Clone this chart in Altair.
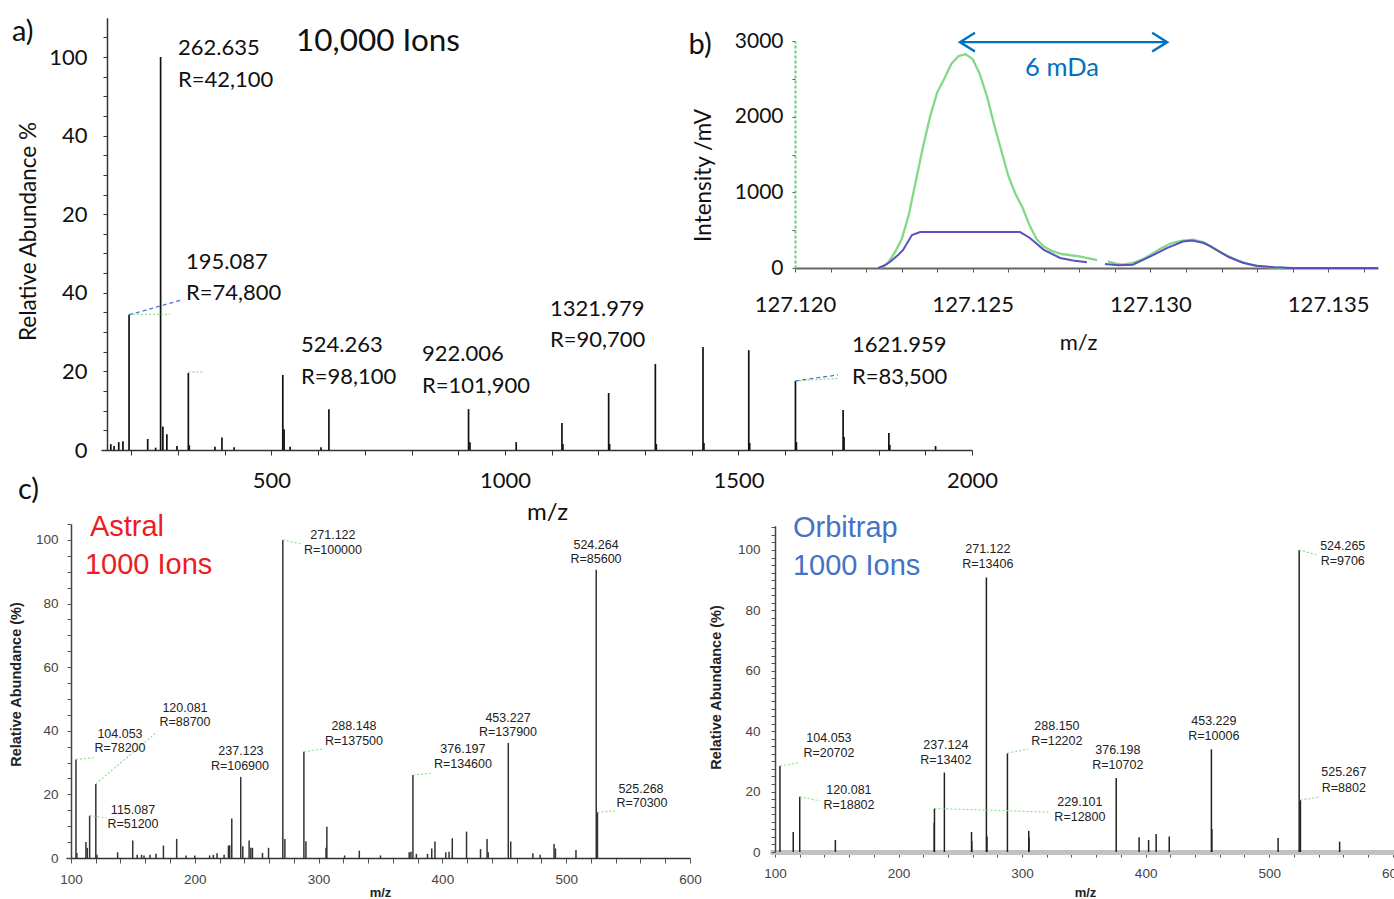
import altair as alt
import pandas as pd

W, H = 1394, 899
FA = "Lato"
FC = "Liberation Sans"
BLUE = "#0070C0"
LEAD_G = "#8fe08f"
LEAD_B = "#4a78d0"

# ---------------- a) 10,000 ions spectrum ----------------
a_mz = [156, 163, 173, 182, 195.087, 235, 252, 262.635, 267.5, 276, 297.6, 322, 324, 379, 394, 420,
        524.263, 527, 540, 606, 623, 922.006, 925, 1024, 1122, 1124, 1222, 1224, 1321.979, 1324,
        1424, 1426, 1522, 1524, 1621.959, 1624, 1724, 1726, 1822, 1824, 1922]
a_ab = [1.5, 1.0, 2.0, 2.2, 34.4, 2.8, 0.6, 100, 6.0, 4.0, 1.0, 19.6, 1.2, 0.8, 3.2, 0.7,
        19.1, 5.3, 0.8, 0.7, 10.4, 10.4, 2.0, 2.0, 6.9, 1.5, 14.5, 1.5, 21.9, 1.5,
        26.2, 1.8, 25.4, 1.8, 17.6, 2.0, 10.2, 3.3, 4.3, 1.3, 1.0]
a_lab_t = ["262.635", "R=42,100", "195.087", "R=74,800", "524.263", "R=98,100",
           "922.006", "R=101,900", "1321.979", "R=90,700", "1621.959", "R=83,500"]
a_lab_mz = [299.8, 299.8, 316.9, 316.9, 563.2, 563.2, 822.3, 822.3, 1096.4, 1096.4, 1743, 1743]
a_lab_ab = [102.3, 94.1, 47.8, 39.9, 26.7, 18.6, 24.4, 16.3, 35.9, 28.0, 26.7, 18.6]
a_ldb_mz = [195.087, 1621.959]
a_ldb_ab = [34.4, 17.6]
a_ldb_mz2 = [308.3, 1713]
a_ldb_ab2 = [38.2, 19.1]
a_ldg_mz = [195.087, 322, 1621.959]
a_ldg_ab = [34.5, 19.8, 17.6]
a_ldg_mz2 = [283, 353, 1713]
a_ldg_ab2 = [34.5, 19.9, 18.2]
a_big_t = ["10,000 Ions"]
a_big_mz = [552.5]
a_big_ab = [103.8]
a_tag_t = ["a)"]
a_tag_mz = [-55.7]
a_tag_ab = [106.4]

# ---------------- b) peak profile ----------------
b_g1_mz = [127.1224, 127.1226, 127.1228, 127.1230, 127.1232, 127.1234, 127.1236, 127.1238, 127.1240,
           127.1242, 127.1244, 127.1246, 127.1248, 127.1250, 127.1252, 127.1254, 127.1256, 127.1258,
           127.1260, 127.1262, 127.1264, 127.1266, 127.1268, 127.1270, 127.1272, 127.1275, 127.1280,
           127.1285]
b_g1_v = [0, 60, 197, 380, 700, 1150, 1600, 2000, 2320, 2500, 2700, 2800, 2825, 2760, 2560, 2270,
          1900, 1560, 1220, 980, 800, 560, 380, 285, 230, 185, 155, 105]
b_g2_mz = [127.1288, 127.1290, 127.1292, 127.1295, 127.1298, 127.1300, 127.1303, 127.1306, 127.1309,
           127.1312, 127.1315, 127.1317, 127.1320, 127.1322, 127.1325, 127.1328, 127.1331, 127.1334,
           127.1338]
b_g2_v = [88, 60, 44, 66, 120, 175, 260, 330, 362, 373, 340, 285, 200, 153, 90, 44, 20, 8, 0]
b_b1_mz = [127.12234, 127.1225, 127.12267, 127.1229, 127.12304, 127.12329, 127.12352, 127.12633,
           127.1266, 127.1270, 127.12746, 127.12782, 127.12821]
b_b1_v = [0, 30, 79, 170, 238, 436, 475, 475, 400, 240, 132, 100, 75]
b_b2_mz = [127.12872, 127.1291, 127.1295, 127.1300, 127.13046, 127.13091, 127.13117, 127.1315,
           127.13169, 127.1322, 127.1326, 127.13298, 127.13349, 127.1340, 127.1364]
b_b2_v = [53, 35, 44, 153, 263, 350, 364, 330, 285, 145, 70, 31, 9, 0, 0]
b_arrow_mz = [127.12464, 127.13047]
b_arrow_v = 2985
b_txt_t = ["6 mDa", "b)"]
b_txt_mz = [127.12751, 127.11733]
b_txt_v = [2642, 2946]

# ---------------- c) Astral 1000 ions ----------------
c1_mz = [104.053, 104.8, 112.1, 113.2, 115.087, 120.081, 121, 137.7, 149.9, 153.5, 157, 159, 163.9,
         168.7, 174.7, 185.4, 193, 200, 212, 215, 218, 223.7, 227.2, 228.2, 229.9, 237.123, 238.8,
         243.9, 245.3, 246.6, 254.7, 259.6, 271.122, 272.8, 288.148, 289.8, 306.0, 306.7, 321,
         332.9, 350, 373.2, 374.6, 376.197, 379, 388, 391.4, 394, 402.7, 405.4, 408, 419.5, 430.8,
         436.1, 437, 453.227, 455.2, 473.1, 479, 490.2, 491.3, 507.9, 524.264, 525.268]
c1_ab = [31.0, 1.6, 5.0, 3.2, 13.3, 23.3, 1.0, 1.8, 5.5, 1.0, 1.0, 0.8, 1.0,
         1.3, 3.9, 6.0, 0.8, 0.8, 0.8, 1.0, 1.5, 1.0, 3.9, 4.0, 12.4, 25.5, 3.7,
         5.5, 3.2, 3.2, 1.6, 3.2, 100, 6.0, 33.4, 5.3, 3.2, 9.8, 0.8,
         2.3, 0.8, 1.8, 2.0, 26.1, 1.3, 1.3, 3.0, 5.2, 1.8, 2.0, 6.2, 8.3, 2.8,
         6.0, 1.8, 36.2, 5.2, 1.5, 1.0, 4.4, 3.0, 2.5, 90.6, 14.4]
c1_lab_t = ["271.122", "R=100000", "524.264", "R=85600", "104.053", "R=78200", "120.081", "R=88700",
            "237.123", "R=106900", "288.148", "R=137500", "376.197", "R=134600", "453.227", "R=137900",
            "525.268", "R=70300", "115.087", "R=51200"]
c1_lab_mz = [311.6, 311.6, 524.1, 524.1, 139.6, 139.6, 192.1, 192.1, 237.3, 236.5, 328.6, 328.6,
             416.6, 416.6, 453.0, 453.0, 560.4, 561.2, 150.1, 150.1]
c1_lab_ab = [101.6, 96.9, 98.4, 94.0, 39.0, 34.6, 47.2, 42.8, 33.6, 28.9, 41.5, 36.8,
             34.3, 29.6, 44.0, 39.6, 21.7, 17.3, 15.1, 10.7]
c1_ld_mz = [104.053, 120.081, 115.087, 271.122, 288.148, 376.197, 525.268]
c1_ld_ab = [31.0, 23.3, 13.3, 100, 33.4, 26.1, 14.4]
c1_ld_mz2 = [118.2, 169.5, 129.0, 286.6, 303.6, 392.4, 539.4]
c1_ld_ab2 = [31.5, 39.6, 12.6, 98.7, 34.3, 26.7, 14.8]
c1_big_t = ["Astral", "1000 Ions"]
c1_big_mz = [115.3, 111.3]
c1_big_ab = [104.1, 92.1]
c_label_t = ["c)"]
c_label_mz = [57.2]
c_label_ab = [115.7]

# ---------------- c) Orbitrap 1000 ions ----------------
c2_mz = [104.053, 114.8, 120.081, 148.9, 228.9, 229.101, 237.124, 259.1, 259.3, 271.122, 271.6,
         288.150, 305.4, 305.6, 376.198, 394.7, 402.4, 408.5, 419.1, 453.229, 453.6, 507.2,
         524.265, 525.267, 557]
c2_ab = [28.5, 6.6, 18.3, 4.0, 9.7, 14.4, 26.3, 6.6, 3.6, 90.9, 5.1,
         32.7, 7.0, 4.8, 24.5, 4.9, 4.0, 6.0, 5.1, 34.0, 7.6, 4.6,
         100, 17.2, 3.4]
c2_lab_t = ["271.122", "R=13406", "524.265", "R=9706", "104.053", "R=20702", "120.081", "R=18802",
            "237.124", "R=13402", "288.150", "R=12202", "376.198", "R=10702", "453.229", "R=10006",
            "525.267", "R=8802", "229.101", "R=12800"]
c2_lab_mz = [272.3, 272.3, 559.5, 559.5, 143.7, 143.7, 159.9, 159.9, 238.3, 238.3, 328.2, 328.2,
             377.5, 377.5, 455.2, 455.2, 560.4, 560.4, 346.8, 346.8]
c2_lab_ab = [100.3, 95.4, 101.3, 96.4, 37.7, 32.8, 20.5, 15.6, 35.4, 30.5, 41.7, 36.8,
             33.8, 28.8, 43.4, 38.4, 26.5, 21.2, 16.6, 11.6]
c2_ld_mz = [104.053, 120.081, 229.101, 288.150, 524.265, 525.267]
c2_ld_ab = [28.5, 18.3, 14.4, 32.7, 100, 17.2]
c2_ld_mz2 = [118.6, 136.4, 322.5, 304.7, 539.3, 541.0]
c2_ld_ab2 = [29.5, 16.9, 13.2, 34.1, 98.3, 18.2]
c2_big_t = ["Orbitrap", "1000 Ions"]
c2_big_mz = [114.6, 114.6]
c2_big_ab = [107.3, 94.7]


# ---------------- helpers ----------------
def noax(field, sc, ch):
    return ch(field, scale=sc, axis=None)


def spectrum(mz, ab, sx, sy, ax_x, ax_y, color, sw):
    d = pd.DataFrame({"mz": mz, "ab": ab, "z": [0.0] * len(mz)})
    return alt.Chart(d).mark_rule(color=color, strokeWidth=sw).encode(
        x=alt.X("mz:Q", scale=sx, axis=ax_x),
        y=alt.Y("ab:Q", scale=sy, axis=ax_y),
        y2=alt.Y2("z"),
    )


def texts(t, mz, ab, sx, sy, **kw):
    d = pd.DataFrame({"t": t, "mz": mz, "ab": ab})
    return alt.Chart(d).mark_text(**kw).encode(
        x=noax("mz:Q", sx, alt.X), y=noax("ab:Q", sy, alt.Y), text="t:N"
    )


def leaders(mz, ab, mz2, ab2, sx, sy, **kw):
    d = pd.DataFrame({"mz": mz, "ab": ab, "mz2": mz2, "ab2": ab2})
    return alt.Chart(d).mark_rule(**kw).encode(
        x=noax("mz:Q", sx, alt.X), y=noax("ab:Q", sy, alt.Y),
        x2=alt.X2("mz2"), y2=alt.Y2("ab2"),
    )


# ---------------- panel a ----------------
sxa = alt.Scale(domain=[135, 2000], range=[101, 972], nice=False, zero=False)
sya = alt.Scale(domain=[0, 110], range=[450, 17.7], nice=False, zero=False)
ax_a_x = alt.Axis(orient="bottom", offset=450 - H, values=list(range(200, 2001, 100)), format="d",
                  labelExpr="datum.value % 500 === 0 ? datum.label : ''",
                  labelFont=FA, labelFontSize=22, labelColor="#111", labelPadding=15,
                  labelFlush=False, labelOverlap=False, tickSize=5, tickColor="#333",
                  domainColor="#333", domainWidth=1.5, grid=False,
                  title="m/z", titleFont=FA, titleFontSize=24, titleFontWeight="normal",
                  titleColor="#111", titleX=547, titleY=62, titleAlign="center",
                  titleBaseline="middle")
ax_a_y = alt.Axis(orient="left", offset=-107, values=list(range(0, 110, 5)), format="d",
                  labelExpr="datum.value === 60 ? '20' : datum.value === 80 ? '40' : "
                            "(datum.value % 20 === 0 ? datum.label : '')",
                  labelFont=FA, labelFontSize=22, labelColor="#111", labelPadding=16,
                  labelOverlap=False, tickSize=4, tickColor="#333",
                  domainColor="#333", domainWidth=1.5, grid=False,
                  title="Relative Abundance %", titleFont=FA, titleFontSize=22.5,
                  titleFontWeight="normal", titleColor="#111", titleX=28 - 107, titleY=231,
                  titleAlign="center", titleBaseline="middle")

layers = [
    spectrum(a_mz, a_ab, sxa, sya, ax_a_x, ax_a_y, "#111", 1.7),
    leaders(a_ldg_mz, a_ldg_ab, a_ldg_mz2, a_ldg_ab2, sxa, sya, color=LEAD_G, strokeWidth=1.3,
            strokeDash=[2, 2]),
    leaders(a_ldb_mz, a_ldb_ab, a_ldb_mz2, a_ldb_ab2, sxa, sya, color=LEAD_B, strokeWidth=1.3,
            strokeDash=[4, 3]),
    texts(a_lab_t, a_lab_mz, a_lab_ab, sxa, sya, align="left", baseline="middle", font=FA,
          fontSize=22, color="#111"),
    texts(a_big_t, a_big_mz, a_big_ab, sxa, sya, align="left", baseline="middle", font=FA,
          fontSize=31.5, color="#111"),
    texts(a_tag_t, a_tag_mz, a_tag_ab, sxa, sya, align="left", baseline="middle", font=FA,
          fontSize=29, color="#111"),
]

# ---------------- panel b ----------------
sxb = alt.Scale(domain=[127.120, 127.1364], range=[795, 1378], nice=False, zero=False)
syb = alt.Scale(domain=[0, 3000], range=[268, 41], nice=False, zero=False)
ax_b_x = alt.Axis(orient="bottom", offset=268 - H, values=[round(127.120 + 0.001 * i, 3) for i in range(17)],
                  labelExpr="round(datum.value * 1000) % 5 === 0 ? format(datum.value, '.3f') : ''",
                  labelFont=FA, labelFontSize=22, labelColor="#111", labelPadding=22,
                  labelFlush=False, labelOverlap=False, tickSize=4, tickColor="#555",
                  domainColor="#666", domainWidth=1.8, grid=False,
                  title="m/z", titleFont=FA, titleFontSize=22, titleFontWeight="normal",
                  titleColor="#111", titleX=1078, titleY=74, titleAlign="center",
                  titleBaseline="middle")
ax_b_y = alt.Axis(orient="left", offset=-795, values=list(range(0, 3001, 500)), format="d",
                  labelExpr="datum.value % 1000 === 0 ? datum.label : ''",
                  labelFont=FA, labelFontSize=21, labelColor="#111", labelPadding=9,
                  labelOverlap=False, tickSize=3, tickColor="#555",
                  domainColor="#6ccb6c", domainWidth=2, domainDash=[3, 2], grid=False,
                  title="Intensity /mV", titleFont=FA, titleFontSize=22.5, titleFontWeight="normal",
                  titleColor="#111", titleX=703 - 795, titleY=175, titleAlign="center",
                  titleBaseline="middle")

b_rows = []
for seg, xs, vs in [("g1", b_g1_mz, b_g1_v), ("g2", b_g2_mz, b_g2_v)]:
    b_rows += [{"mz": x, "v": v, "seg": seg} for x, v in zip(xs, vs)]
b_green = pd.DataFrame(b_rows)
b_rows = []
for seg, xs, vs in [("b1", b_b1_mz, b_b1_v), ("b2", b_b2_mz, b_b2_v)]:
    b_rows += [{"mz": x, "v": v, "seg": seg} for x, v in zip(xs, vs)]
b_blue = pd.DataFrame(b_rows)

layers += [
    alt.Chart(b_green).mark_line(color="#84d984", strokeWidth=2.3).encode(
        x=alt.X("mz:Q", scale=sxb, axis=ax_b_x),
        y=alt.Y("v:Q", scale=syb, axis=ax_b_y),
        detail="seg:N",
    ),
    alt.Chart(b_blue).mark_line(color="#5a50c0", strokeWidth=2).encode(
        x=noax("mz:Q", sxb, alt.X), y=noax("v:Q", syb, alt.Y), detail="seg:N"
    ),
]
arrow_df = pd.DataFrame({"mz": [b_arrow_mz[0]], "v": [b_arrow_v], "mz2": [b_arrow_mz[1]]})
layers.append(alt.Chart(arrow_df).mark_rule(color=BLUE, strokeWidth=2.2).encode(
    x=noax("mz:Q", sxb, alt.X), x2=alt.X2("mz2"), y=noax("v:Q", syb, alt.Y)
))
heads_df = pd.DataFrame({"mz": b_arrow_mz, "v": [b_arrow_v, b_arrow_v], "dir": ["l", "r"]})
layers.append(alt.Chart(heads_df).mark_point(filled=False, size=900, strokeWidth=2.4, color=BLUE,
                                             opacity=1).encode(
    x=noax("mz:Q", sxb, alt.X), y=noax("v:Q", syb, alt.Y),
    shape=alt.Shape("dir:N", scale=alt.Scale(domain=["l", "r"],
                                             range=["M1,-0.62L0,0L1,0.62", "M-1,-0.62L0,0L-1,0.62"]),
                    legend=None),
))
layers.append(texts(b_txt_t[:1], b_txt_mz[:1], b_txt_v[:1], sxb, syb, baseline="middle", font=FA,
                    fontSize=25.5, color=BLUE))
layers.append(texts(b_txt_t[1:], b_txt_mz[1:], b_txt_v[1:], sxb, syb, baseline="middle", font=FA,
                    fontSize=29, color="#111"))


# ---------------- panel c axes ----------------
def c_axes(off_x, off_y, title_x, title_y_y, titlex_x, dom_w, dom_c, ystep, ymax, lpx, lpy, ymid):
    ax = alt.Axis(orient="bottom", offset=off_x, values=list(range(100, 601, 20)), format="d",
                  labelExpr="datum.value % 100 === 0 ? datum.label : ''",
                  labelFont=FC, labelFontSize=13.5, labelColor="#444", labelPadding=lpx,
                  labelFlush=False, labelOverlap=False, tickSize=5, tickColor="#555",
                  domainColor=dom_c, domainWidth=dom_w, grid=False,
                  title="m/z", titleFont=FC, titleFontSize=13, titleFontWeight="bold",
                  titleColor="#222", titleX=titlex_x, titleY=title_x, titleAlign="center",
                  titleBaseline="middle")
    vals = [round(i * ystep, 2) for i in range(int(ymax / ystep) + 1)]
    ay = alt.Axis(orient="left", offset=off_y, values=vals, format="d",
                  labelExpr="datum.value % 20 === 0 ? datum.label : ''",
                  labelFont=FC, labelFontSize=13.5, labelColor="#444", labelPadding=lpy,
                  labelOverlap=False, tickSize=4, tickColor="#555",
                  domainColor="#444", domainWidth=1.5, grid=False,
                  title="Relative Abundance (%)", titleFont=FC, titleFontSize=14.5,
                  titleFontWeight="bold", titleColor="#222", titleX=title_y_y, titleY=ymid,
                  titleAlign="center", titleBaseline="middle")
    return ax, ay


# ---------------- panel c left ----------------
sxc1 = alt.Scale(domain=[96, 600], range=[66, 690], nice=False, zero=False)
syc1 = alt.Scale(domain=[0, 105], range=[858, 524], nice=False, zero=False)
ax_c1_x, ax_c1_y = c_axes(858 - H, -71, 34, 16 - 71, 380, 1.5, "#333", 5, 105, 9, 9, 684)
layers += [
    spectrum(c1_mz, c1_ab, sxc1, syc1, ax_c1_x, ax_c1_y, "#333", 1.5),
    leaders(c1_ld_mz, c1_ld_ab, c1_ld_mz2, c1_ld_ab2, sxc1, syc1, color=LEAD_G, strokeWidth=1.2,
            strokeDash=[2, 2]),
    texts(c1_lab_t, c1_lab_mz, c1_lab_ab, sxc1, syc1, align="center", baseline="middle", font=FC,
          fontSize=12.5, color="#222"),
    texts(c1_big_t, c1_big_mz, c1_big_ab, sxc1, syc1, align="left", baseline="middle", font=FC,
          fontSize=29, color="#ed1c24"),
    texts(c_label_t, c_label_mz, c_label_ab, sxc1, syc1, align="left", baseline="middle", font=FA,
          fontSize=29, color="#111"),
]

# ---------------- panel c right ----------------
sxc2 = alt.Scale(domain=[96, 601], range=[770, 1394], nice=False, zero=False)
syc2 = alt.Scale(domain=[0, 108], range=[852, 525.8], nice=False, zero=False)
ax_c2_x, ax_c2_y = c_axes(852 - H, -775, 40, 716 - 775, 1085, 5, "#c2c2c2", 2.5, 107.5, 9, 11, 687)
layers += [
    spectrum(c2_mz, c2_ab, sxc2, syc2, ax_c2_x, ax_c2_y, "#222", 1.5),
    leaders(c2_ld_mz, c2_ld_ab, c2_ld_mz2, c2_ld_ab2, sxc2, syc2, color=LEAD_G, strokeWidth=1.2,
            strokeDash=[2, 2]),
    texts(c2_lab_t, c2_lab_mz, c2_lab_ab, sxc2, syc2, align="center", baseline="middle", font=FC,
          fontSize=12.5, color="#222"),
    texts(c2_big_t, c2_big_mz, c2_big_ab, sxc2, syc2, align="left", baseline="middle", font=FC,
          fontSize=29, color="#4472c4"),
]

chart = (
    alt.layer(*layers)
    .resolve_scale(x="independent", y="independent")
    .properties(width=W, height=H, padding=0, autosize=alt.AutoSizeParams(type="none"),
                background="white")
    .configure_view(strokeWidth=0)
    .configure_axis(grid=False)
)

chart.save("out.html", embed_options={"renderer": "svg", "actions": False})
